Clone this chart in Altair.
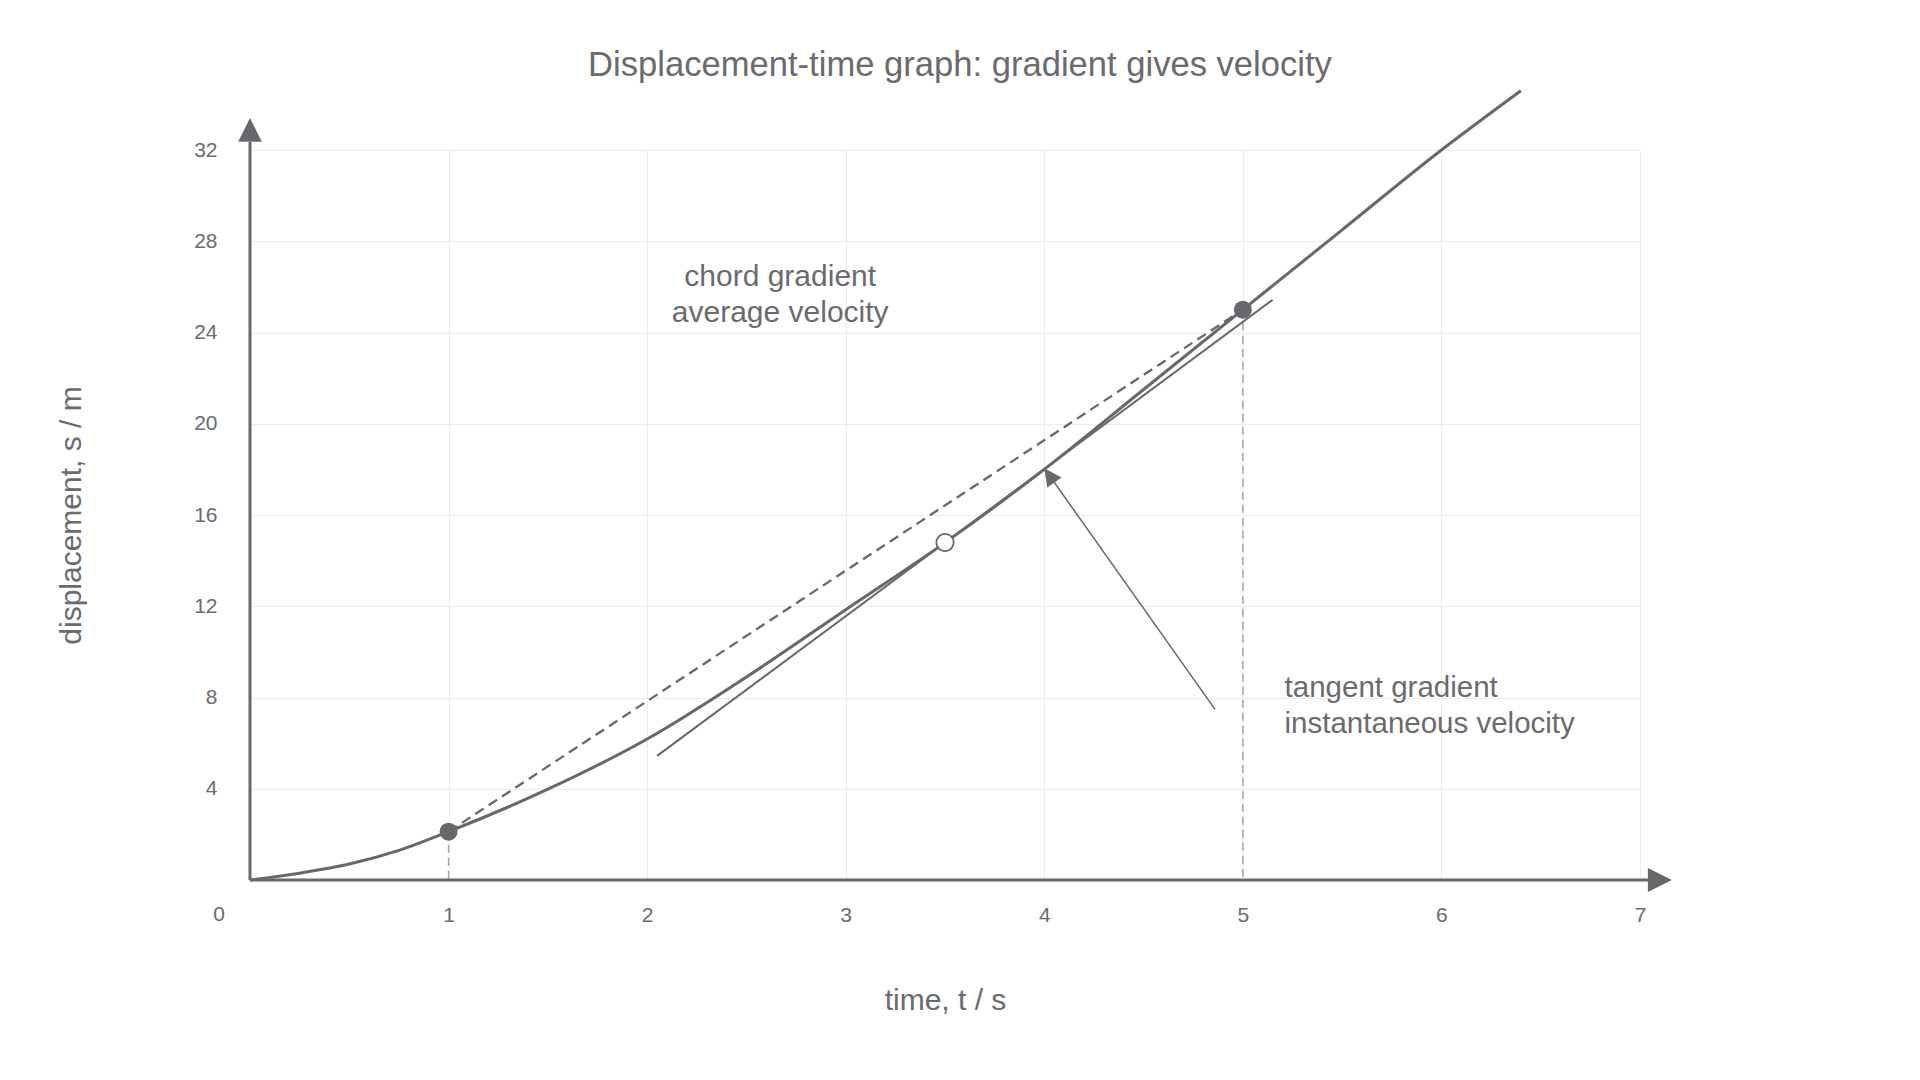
import altair as alt
import pandas as pd

# displacement-time curve (t in s, s in m)
curve_t = [0, 0.25, 0.5, 0.75, 1, 1.5, 2, 2.5, 3, 3.5, 4, 4.5, 5, 5.5, 6, 6.4]
curve_s = [0, 0.3, 0.7, 1.3, 2.12, 3.98, 6.18, 8.9, 11.85, 14.79, 18.0, 21.5, 25.0, 28.5, 32.0, 34.6]

# chord between the two marked points
chord_t = [1, 5]
chord_s = [2.12, 25.0]

# tangent touching the curve at t = 3.5
tangent_t = [2.05, 5.15]
tangent_s = [5.44, 25.43]
touch_t = [3.5]
touch_s = [14.79]

# pointer from the tangent label to the curve (tail, tip)
pointer_t = [4.86, 4.0]
pointer_s = [7.48, 18.05]

x_ticks = [1, 2, 3, 4, 5, 6, 7]
y_ticks = [4, 8, 12, 16, 20, 24, 28, 32]

title = "Displacement-time graph: gradient gives velocity"
x_title = "time, t / s"
y_title = "displacement, s / m"
origin_label = "0"
chord_label = "chord gradient\naverage velocity"
tangent_label = "tangent gradient\ninstantaneous velocity"

INK = "#67676c"
TEXT = "#6a6a6f"
FAINT = "#a8a8ac"
GRID = "#ececec"
FONT = "Liberation Sans"

x_scale = alt.Scale(domain=[0, 7], nice=False, zero=False)
y_scale = alt.Scale(domain=[0, 32], nice=False, zero=False)

# every layer carries the same axis so the shared axes merge cleanly
x_axis = alt.Axis(
    values=x_ticks, grid=True, gridColor=GRID, gridWidth=1,
    domain=False, ticks=False, labelFlush=False,
    labelFontSize=21, labelColor=TEXT, labelPadding=24,
    title=x_title, titleFontSize=30, titleFontWeight="normal", titleColor=TEXT,
    titlePadding=60,
)
y_axis = alt.Axis(
    values=y_ticks, grid=True, gridColor=GRID, gridWidth=1,
    domain=False, ticks=False, labelFlush=False,
    labelFontSize=21, labelColor=TEXT, labelPadding=33,
    title=y_title, titleFontSize=30, titleFontWeight="normal", titleColor=TEXT,
    titlePadding=107,
)


def frame(t, s):
    return pd.DataFrame({"t": t, "s": s})


def xy():
    return dict(
        x=alt.X("t:Q", scale=x_scale, axis=x_axis),
        y=alt.Y("s:Q", scale=y_scale, axis=y_axis),
    )


def at(t, s):
    return dict(
        x=alt.datum(t, scale=x_scale, axis=x_axis),
        y=alt.datum(s, scale=y_scale, axis=y_axis),
    )


one_row = alt.Data(values=[{}])

curve = alt.Chart(frame(curve_t, curve_s)).mark_line(
    color=INK, strokeWidth=3, interpolate="monotone", clip=False
).encode(**xy())

drops = alt.Chart(frame(chord_t, chord_s)).mark_rule(
    color=FAINT, strokeWidth=1.5, strokeDash=[8, 5]
).encode(**xy(), y2=alt.datum(0))

chord = alt.Chart(frame(chord_t, chord_s)).mark_line(
    color=INK, strokeWidth=2.3, strokeDash=[10, 6]
).encode(**xy())

tangent = alt.Chart(frame(tangent_t, tangent_s)).mark_line(
    color=INK, strokeWidth=2
).encode(**xy())

pointer = alt.Chart(frame(pointer_t, pointer_s)).mark_line(
    color=INK, strokeWidth=1.5
).encode(**xy())

pointer_head = alt.Chart(frame(pointer_t[-1:], pointer_s[-1:])).mark_point(
    shape="M0,0L-0.5,1L0.5,1Z", size=1225, angle=324.5,
    filled=True, color=INK, opacity=1,
).encode(**xy())

x_line = alt.Chart(one_row).mark_rule(color=INK, strokeWidth=3).encode(
    **at(0, 0), x2=alt.datum(7.04)
)
y_line = alt.Chart(one_row).mark_rule(color=INK, strokeWidth=3).encode(
    **at(0, 0), y2=alt.datum(32.35)
)
x_head = alt.Chart(one_row).mark_point(
    shape="M-1,-1L1,0L-1,1Z", size=576, filled=True, color=INK, opacity=1
).encode(**at(7.10, 0))
y_head = alt.Chart(one_row).mark_point(
    shape="M-1,1L0,-1L1,1Z", size=560, filled=True, color=INK, opacity=1
).encode(**at(0, 32.88))

origin_text = alt.Chart(one_row).mark_text(
    text=origin_label, align="center", baseline="top", dx=-31, dy=24,
    fontSize=21, color=TEXT,
).encode(**at(0, 0))

dots = alt.Chart(frame(chord_t, chord_s)).mark_point(
    shape="circle", size=324, filled=True, color=INK, opacity=1
).encode(**xy())

touch = alt.Chart(frame(touch_t, touch_s)).mark_point(
    shape="circle", size=300, filled=True, fill="white", stroke=INK,
    strokeWidth=1.8, opacity=1
).encode(**xy())

chord_text = alt.Chart(one_row).mark_text(
    text=chord_label, lineBreak="\n", align="center", baseline="middle",
    fontSize=30, lineHeight=36, color=TEXT,
).encode(**at(2.67, 26.45))

tangent_text = alt.Chart(one_row).mark_text(
    text=tangent_label, lineBreak="\n", align="left", baseline="middle",
    fontSize=29.5, lineHeight=36, color=TEXT,
).encode(**at(5.21, 8.4))

chart = alt.layer(
    curve, drops, chord, tangent, pointer, pointer_head,
    x_line, y_line, x_head, y_head, origin_text, dots, touch,
    chord_text, tangent_text,
).properties(
    width=1390,
    height=730,
    padding={"left": 242, "top": 142, "right": 272, "bottom": 190},
    autosize="none",
    title=alt.Title(
        title, fontSize=34.6, fontWeight="normal", color=TEXT,
        anchor="middle", frame="group", dx=15, offset=1,
    ),
).configure(font=FONT).configure_view(stroke=None)

chart.save("out.html", embed_options={"renderer": "svg", "actions": False})
